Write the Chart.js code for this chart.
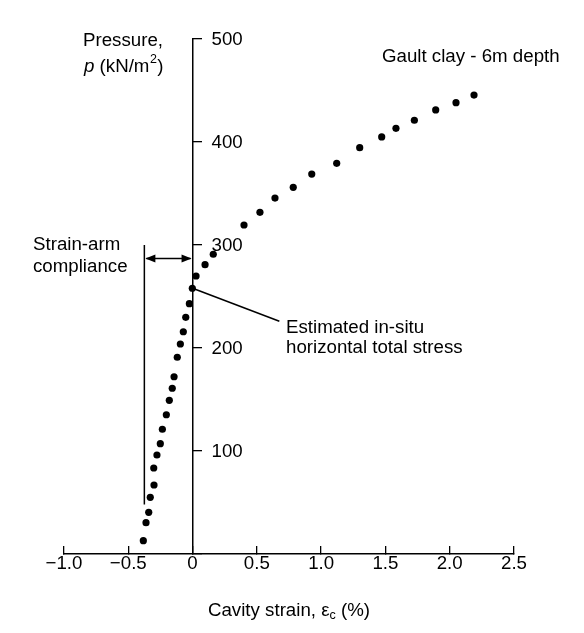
<!DOCTYPE html>
<html>
<head>
<meta charset="utf-8">
<script src="https://cdn.jsdelivr.net/npm/chart.js@4.4.1/dist/chart.umd.min.js"></script>
<style>
  html, body { margin: 0; padding: 0; background: #fff; }
  canvas { display: block; }
</style>
</head>
<body>
<canvas id="c" width="584" height="633"></canvas>
<script>
// ---- data ----
const xTickLabels = ['\u22121.0', '\u22120.5', '0', '0.5', '1.0', '1.5', '2.0', '2.5'];
const yTickValues = [100, 200, 300, 400, 500];
const yTickLabels = ['100', '200', '300', '400', '500'];

// cavity strain (%) and pressure (kN/m2), bottom to top
const strain = [-0.383, -0.362, -0.341, -0.329, -0.300, -0.302, -0.277, -0.251, -0.235, -0.204,
                -0.181, -0.158, -0.144, -0.119, -0.095, -0.072, -0.053, -0.025, -0.002, 0.027,
                 0.097, 0.161, 0.400, 0.524, 0.641, 0.783, 0.927, 1.121, 1.300, 1.471,
                 1.582, 1.725, 1.891, 2.049, 2.189];
const pressure = [12.9, 30.4, 40.5, 55.0, 67.0, 83.5, 96.1, 107.1, 121.1, 135.2,
                  149.2, 160.9, 172.1, 191.0, 203.9, 215.8, 229.8, 243.0, 258.0, 269.9,
                  280.9, 291.0, 319.4, 331.7, 345.6, 356.0, 368.9, 379.3, 394.5, 404.9,
                  413.3, 421.1, 431.1, 438.2, 445.6];

// annotation geometry in data units
const complianceX = -0.375;          // strain-arm compliance line
const complianceRange = [48, 300];   // pressure extent of that line
const arrowPressure = 287;           // double arrow level
const leaderFrom = [0.0, 258];       // estimated in-situ stress point
const leaderTo = [0.675, 226];

const FAMILY = '"Liberation Sans", Arial, Helvetica, sans-serif';
const FS = 18.7;
const f = (size, style) => (style ? style + ' ' : '') + size + 'px ' + FAMILY;

const annotations = {
  id: 'annotations',
  afterDraw(chart) {
    const { ctx, scales: { x, y } } = chart;
    ctx.save();
    ctx.fillStyle = '#000';
    ctx.strokeStyle = '#000';
    ctx.textBaseline = 'middle';
    ctx.textAlign = 'left';

    const x0 = x.getPixelForValue(0);

    // y tick labels (right of the axis)
    ctx.font = f(FS);
    yTickValues.forEach((v, i) => {
      ctx.fillText(yTickLabels[i], x0 + 19, y.getPixelForValue(v) + 1);
    });

    // y axis title
    ctx.font = f(FS);
    ctx.fillText('Pressure,', 83, 41);
    let cx = 84;
    const py = 67;
    ctx.font = f(FS, 'italic');
    ctx.fillText('p', cx, py);
    cx += ctx.measureText('p').width;
    ctx.font = f(FS);
    ctx.fillText(' (kN/m', cx, py);
    cx += ctx.measureText(' (kN/m').width;
    ctx.font = f(12.5);
    ctx.fillText('2', cx + 0.5, py - 7);
    cx += ctx.measureText('2').width + 1;
    ctx.font = f(FS);
    ctx.fillText(')', cx, py);

    // x axis title with subscript
    const parts = [['Cavity strain, \u03b5', FS, 0], ['c', 12.5, 5], [' (%)', FS, 0]];
    let total = 0;
    parts.forEach(p => { ctx.font = f(p[1]); total += ctx.measureText(p[0]).width; });
    let tx = (x.left + x.right) / 2 - total / 2;
    parts.forEach(p => {
      ctx.font = f(p[1]);
      ctx.fillText(p[0], tx, 611 + p[2]);
      tx += ctx.measureText(p[0]).width;
    });

    // header label
    ctx.font = f(FS);
    ctx.fillText('Gault clay - 6m depth', 382, 57);

    // strain-arm compliance
    ctx.fillText('Strain-arm', 33, 245);
    ctx.fillText('compliance', 33, 267);
    const lx = x.getPixelForValue(complianceX);
    ctx.lineWidth = 1.5;
    ctx.beginPath();
    ctx.moveTo(lx, y.getPixelForValue(complianceRange[0]));
    ctx.lineTo(lx, y.getPixelForValue(complianceRange[1]));
    ctx.stroke();

    const ay = y.getPixelForValue(arrowPressure);
    ctx.lineWidth = 1.5;
    ctx.beginPath();
    ctx.moveTo(lx + 2, ay);
    ctx.lineTo(x0 - 2, ay);
    ctx.stroke();
    const head = (tipX, dir) => {
      ctx.beginPath();
      ctx.moveTo(tipX, ay);
      ctx.lineTo(tipX + dir * 10, ay - 4);
      ctx.lineTo(tipX + dir * 10, ay + 4);
      ctx.closePath();
      ctx.fill();
    };
    head(lx + 1, 1);
    head(x0 - 1, -1);

    // leader to estimated in-situ stress
    ctx.lineWidth = 1.5;
    ctx.beginPath();
    ctx.moveTo(x.getPixelForValue(leaderFrom[0]), y.getPixelForValue(leaderFrom[1]));
    ctx.lineTo(x.getPixelForValue(leaderTo[0]), y.getPixelForValue(leaderTo[1]));
    ctx.stroke();
    ctx.fillText('Estimated in-situ', 286, 328);
    ctx.fillText('horizontal total stress', 286, 348);

    ctx.restore();
  }
};

new Chart(document.getElementById('c'), {
  type: 'scatter',
  data: {
    datasets: [{
      data: strain.map((s, i) => ({ x: s, y: pressure[i] })),
      pointRadius: 3.6,
      pointBackgroundColor: '#000',
      pointBorderWidth: 0,
      showLine: false
    }]
  },
  options: {
    responsive: false,
    animation: false,
    devicePixelRatio: 1,
    layout: { padding: { left: 64, right: 70, top: 39, bottom: 0 } },
    plugins: { legend: { display: false }, tooltip: { enabled: false } },
    scales: {
      x: {
        type: 'linear',
        position: 'bottom',
        min: -1,
        max: 2.5,
        afterFit: s => { s.height = 79; },
        ticks: {
          stepSize: 0.5,
          autoSkip: false,
          maxRotation: 0,
          padding: 7,
          color: '#000',
          font: { family: FAMILY, size: FS },
          callback: (v, i) => xTickLabels[i]
        },
        grid: { display: true, drawOnChartArea: false, drawTicks: true, tickLength: -8, color: '#000', lineWidth: 1.3 },
        border: { display: true, color: '#000', width: 1.5 }
      },
      y: {
        type: 'linear',
        position: { x: 0 },
        min: 0,
        max: 500,
        ticks: { stepSize: 100, display: false },
        grid: { display: true, drawOnChartArea: false, drawTicks: true, tickLength: -10, color: '#000', lineWidth: 1.3 },
        border: { display: true, color: '#000', width: 1.5 }
      }
    }
  },
  plugins: [annotations]
});
</script>
</body>
</html>
